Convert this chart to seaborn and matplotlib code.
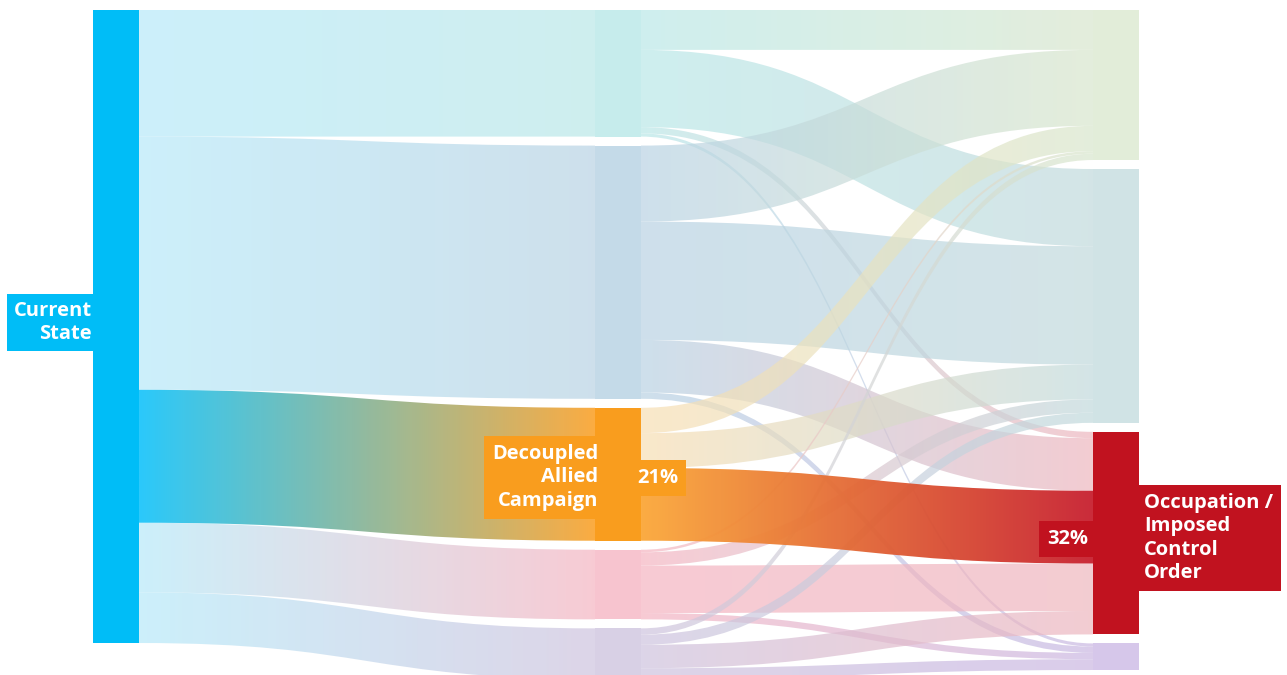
import numpy as np
import seaborn as sns
import matplotlib.pyplot as plt
from matplotlib.path import Path
from matplotlib.patches import PathPatch, Rectangle
from matplotlib.colors import to_rgb

# data (percent of total)
source_name = "Current State"
middle_names = ["mid_1", "mid_2", "Decoupled\nAllied\nCampaign", "mid_4", "mid_5"]
end_names = ["end_1", "end_2", "Occupation /\nImposed\nControl\nOrder", "end_4"]

source_to_middle = [20, 40, 21, 11, 8]
# rows: middle nodes, cols: end nodes
middle_to_end = [
    [6.3, 12.2, 1.0, 0.5],
    [12.0, 18.7, 8.3, 1.0],
    [4.0, 5.5, 11.5, 0.0],
    [0.4, 2.1, 7.5, 1.0],
    [1.0, 1.6, 3.7, 1.7],
]

# colours
source_full = "#00BDF7"
source_light = "#CCF0FB"
middle_full = ["#C6ECEC", "#C4DAE8", "#F99D1E", "#F7C4CF", "#D8D0E5"]
middle_light = ["#CFEFEF", "#CEE0EC", "#FAE8CA", "#F8CBD4", "#DDD5E8"]
end_full = ["#E2EDD9", "#D0E3E5", "#C1121F", "#D6C7EA"]
end_light = ["#E4EEDC", "#D4E5E7", "#F3CCD2", "#DACDEB"]
highlight_mid = 2
highlight_end = 2

# layout
X_COLS = [93, 595, 1093]
NODE_W = 46
TOP = 10
GAP = 9
PX = 6.33
FADE_ALPHA = 0.7

sns.set_theme(style="white")
plt.rcParams['font.family'] = ['Open Sans', 'DejaVu Sans']


def stack(values):
    pos = []
    y = TOP
    for v in values:
        pos.append([y, y + v * PX])
        y += v * PX + GAP
    return pos


def pre_alpha(hex_color, a):
    # colour that shows as hex_color on white when drawn with alpha a
    d = np.array(to_rgb(hex_color))
    return tuple(np.clip(1 - (1 - d) / a, 0, 1))


def draw_link(ax, x0, x1, y0, y1, h, c0, c1, alpha, z):
    xm = (x0 + x1) / 2
    verts = [(x0, y0), (xm, y0), (xm, y1), (x1, y1),
             (x1, y1 + h), (xm, y1 + h), (xm, y0 + h), (x0, y0 + h), (x0, y0)]
    codes = [Path.MOVETO, Path.CURVE4, Path.CURVE4, Path.CURVE4,
             Path.LINETO, Path.CURVE4, Path.CURVE4, Path.CURVE4, Path.CLOSEPOLY]
    patch = PathPatch(Path(verts, codes), fc='none', ec='none')
    ax.add_patch(patch)
    grad = np.array(sns.blend_palette([c0, c1], n_colors=256))[None, :, :3]
    lo = min(y0, y1) - 1
    hi = max(y0, y1) + h + 1
    im = ax.imshow(grad, extent=(x0, x1, hi, lo), aspect='auto', alpha=alpha,
                   interpolation='bilinear', zorder=z)
    im.set_clip_path(patch)


src_pos = stack([sum(source_to_middle)])[0]
mid_pos = stack(source_to_middle)
end_values = [sum(row[j] for row in middle_to_end) for j in range(len(end_names))]
end_pos = stack(end_values)

fig = plt.figure(figsize=(12.87, 6.75), dpi=100)
ax = fig.add_axes([0, 0, 1, 1])

# source -> middle
off = src_pos[0]
for i, v in enumerate(source_to_middle):
    h = v * PX
    if i == highlight_mid:
        draw_link(ax, X_COLS[0] + NODE_W, X_COLS[1], off, mid_pos[i][0], h,
                  "#1FC6FB", "#FBA838", 0.95, 2)
    else:
        draw_link(ax, X_COLS[0] + NODE_W, X_COLS[1], off, mid_pos[i][0], h,
                  pre_alpha(source_light, FADE_ALPHA), pre_alpha(middle_light[i], FADE_ALPHA),
                  FADE_ALPHA, 1)
    off += h

# middle -> end (out ordered by target, in ordered by source)
out_off = [p[0] for p in mid_pos]
in_off = [p[0] for p in end_pos]
for i, row in enumerate(middle_to_end):
    for j, v in enumerate(row):
        if v <= 0:
            continue
        h = v * PX
        if i == highlight_mid and j == highlight_end:
            draw_link(ax, X_COLS[1] + NODE_W, X_COLS[2], out_off[i], in_off[j], h,
                      "#FBA83A", "#C8202F", 0.95, 2)
        else:
            draw_link(ax, X_COLS[1] + NODE_W, X_COLS[2], out_off[i], in_off[j], h,
                      pre_alpha(middle_light[i], FADE_ALPHA), pre_alpha(end_light[j], FADE_ALPHA),
                      FADE_ALPHA, 1)
        out_off[i] += h
        in_off[j] += h

# nodes
ax.add_patch(Rectangle((X_COLS[0], src_pos[0]), NODE_W, src_pos[1] - src_pos[0],
                       color=source_full, zorder=3, lw=0))
for i, (a, b) in enumerate(mid_pos):
    ax.add_patch(Rectangle((X_COLS[1], a), NODE_W, b - a, color=middle_full[i], zorder=3, lw=0))
for j, (a, b) in enumerate(end_pos):
    ax.add_patch(Rectangle((X_COLS[2], a), NODE_W, b - a, color=end_full[j], zorder=3, lw=0))

# labels
txt = dict(color='white', fontweight='bold', fontsize=14.5, linespacing=1.23, zorder=4)
ax.text(X_COLS[0] - 1, (src_pos[0] + src_pos[1]) / 2 - 4, source_name.replace(" ", "\n"),
        ha='right', va='center',
        bbox=dict(boxstyle='square,pad=0.35', fc=source_full, ec='none'), **txt)

m0, m1 = mid_pos[highlight_mid]
ax.text(X_COLS[1] + 3, (m0 + m1) / 2 + 3, middle_names[highlight_mid], ha='right', va='center',
        bbox=dict(boxstyle='square,pad=0.4', fc=middle_full[highlight_mid], ec='none'), **txt)
ax.text(X_COLS[1] + NODE_W - 4, (m0 + m1) / 2 + 4, f"{source_to_middle[highlight_mid]:.0f}%",
        ha='left', va='center',
        bbox=dict(boxstyle='square,pad=0.4', fc=middle_full[highlight_mid], ec='none'), **txt)

e0, e1 = end_pos[highlight_end]
ax.text(X_COLS[2] - 5, (e0 + e1) / 2 + 6, f"{end_values[highlight_end]:.0f}%",
        ha='right', va='center',
        bbox=dict(boxstyle='square,pad=0.4', fc=end_full[highlight_end], ec='none'), **txt)
ax.text(X_COLS[2] + NODE_W + 5, (e0 + e1) / 2 + 5, end_names[highlight_end],
        ha='left', va='center',
        bbox=dict(boxstyle='square,pad=0.4', fc=end_full[highlight_end], ec='none'), **txt)

ax.set_xlim(0, 1287)
ax.set_ylim(675, 0)
ax.axis('off')
fig.savefig('out.png', dpi=100, facecolor='white')
